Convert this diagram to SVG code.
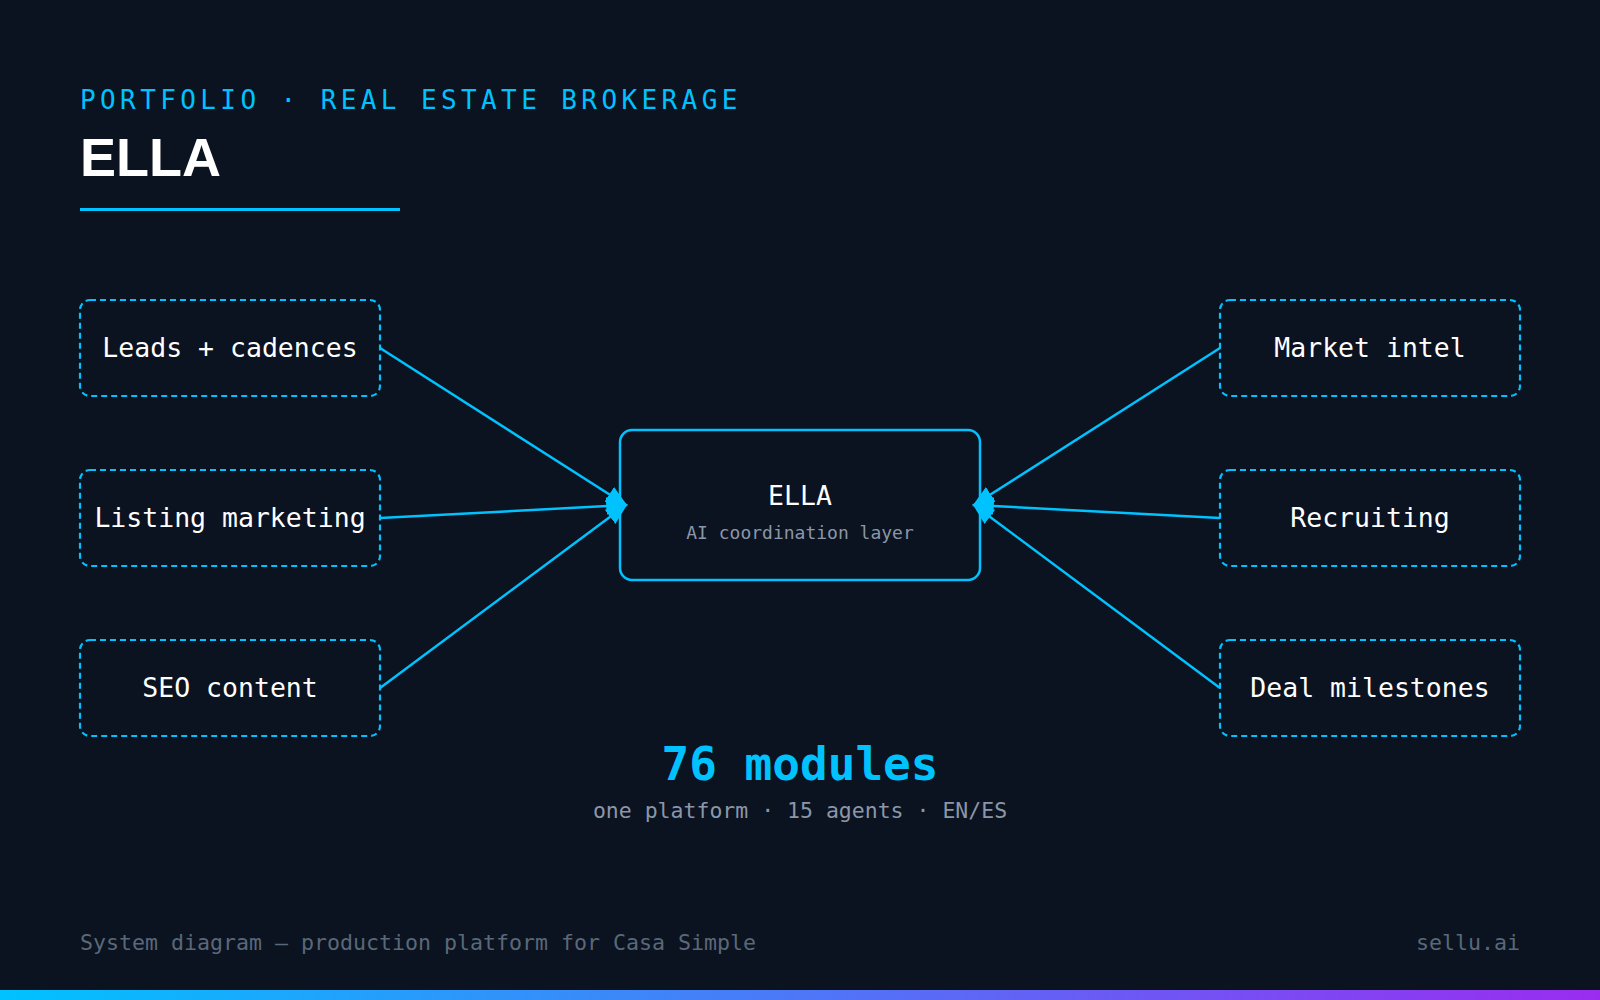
<svg xmlns="http://www.w3.org/2000/svg" width="1600" height="1000" viewBox="0 0 1600 1000">
<style>
.m{font-family:"DejaVu Sans Mono","Liberation Mono",monospace}
.box{fill:none;stroke:#00c2ff;stroke-width:2.2;stroke-dasharray:6 4}
.lbl{fill:#ffffff;font-size:26.5px;text-anchor:middle}
.ln{stroke:#00c2ff;stroke-width:2.5;fill:none;marker-end:url(#ah)}
</style>
<defs>
<marker id="ah" viewBox="0 0 10 10" refX="9" refY="5" markerWidth="22" markerHeight="22" markerUnits="userSpaceOnUse" orient="auto"><path d="M0,1 L10,5 L0,9 z" fill="#00c2ff"/></marker>
<linearGradient id="g" x1="0" x2="1"><stop offset="0" stop-color="#00c2ff"/><stop offset="1" stop-color="#9a2cf0"/></linearGradient>
</defs>
<rect width="1600" height="1000" fill="#0b1220"/>
<text class="m" x="80" y="109" font-size="26" letter-spacing="4.4" fill="#00c2ff">PORTFOLIO · REAL ESTATE BROKERAGE</text>
<text x="80" y="176" font-family="Liberation Sans,Arial,sans-serif" font-weight="bold" font-size="54" fill="#ffffff">ELLA</text>
<rect x="80" y="208" width="320" height="3" fill="#00c2ff"/>
<g id="connectors">
<line class="ln" x1="380" y1="348" x2="626" y2="505"/>
<line class="ln" x1="380" y1="518" x2="626" y2="505"/>
<line class="ln" x1="380" y1="688" x2="626" y2="505"/>
<line class="ln" x1="1220" y1="348" x2="974" y2="505"/>
<line class="ln" x1="1220" y1="518" x2="974" y2="505"/>
<line class="ln" x1="1220" y1="688" x2="974" y2="505"/>
</g>
<g id="leads"><rect class="box" x="80" y="300" width="300" height="96" rx="10"/><text class="m lbl" x="230" y="357">Leads + cadences</text></g>
<g id="listing"><rect class="box" x="80" y="470" width="300" height="96" rx="10"/><text class="m lbl" x="230" y="527">Listing marketing</text></g>
<g id="seo"><rect class="box" x="80" y="640" width="300" height="96" rx="10"/><text class="m lbl" x="230" y="697">SEO content</text></g>
<g id="market"><rect class="box" x="1220" y="300" width="300" height="96" rx="10"/><text class="m lbl" x="1370" y="357">Market intel</text></g>
<g id="recruiting"><rect class="box" x="1220" y="470" width="300" height="96" rx="10"/><text class="m lbl" x="1370" y="527">Recruiting</text></g>
<g id="deal"><rect class="box" x="1220" y="640" width="300" height="96" rx="10"/><text class="m lbl" x="1370" y="697">Deal milestones</text></g>
<g id="ella"><rect x="620" y="430" width="360" height="150" rx="12" fill="none" stroke="#00c2ff" stroke-width="2.5"/>
<text class="m lbl" x="800" y="505">ELLA</text>
<text class="m" x="800" y="539" font-size="18" fill="#8b97a8" text-anchor="middle">AI coordination layer</text></g>
<text class="m" x="800" y="780" font-size="46" font-weight="bold" fill="#00c2ff" text-anchor="middle">76 modules</text>
<text class="m" x="800" y="818" font-size="21.5" fill="#8b97a8" text-anchor="middle">one platform · 15 agents · EN/ES</text>
<text class="m" x="80" y="950" font-size="21.6" fill="#5a6878">System diagram — production platform for Casa Simple</text>
<text class="m" x="1520" y="950" font-size="21.6" fill="#5a6878" text-anchor="end">sellu.ai</text>
<rect x="0" y="990" width="1600" height="10" fill="url(#g)"/>
</svg>
